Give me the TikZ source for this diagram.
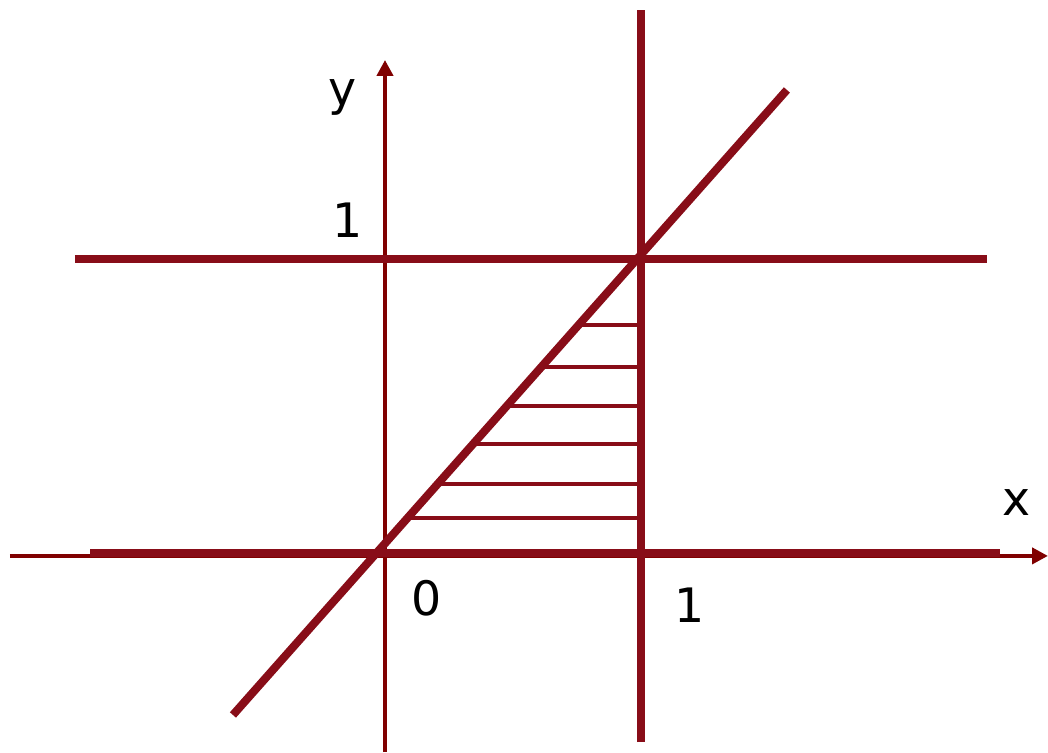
\documentclass[tikz,border=0pt]{standalone}
\usepackage{fontspec}
\setmainfont{DejaVu Sans}
\usetikzlibrary{arrows.meta}
\definecolor{axisred}{RGB}{128,0,0}
\definecolor{linered}{RGB}{136,13,24}
\tikzset{
  axis/.style={axisred, line width=1.15pt, -{Triangle[length=4.5pt,width=4.5pt]}},
  bound/.style={linered, line width=2.3pt},
  hatch/.style={linered, line width=1pt},
  lbl/.style={font=\fontsize{13.5}{15}\selectfont, inner sep=0pt}
}
\begin{document}
\begin{tikzpicture}[x=2.56cm,y=2.94cm]
\useasboundingbox (-1.504,-0.677) rectangle (2.590,1.881);
% axes
\draw[axis] (-1.465,-0.01) -- (2.59,-0.01);
\draw[axis] (0,-0.677) -- (0,1.677);
% region boundaries
\draw[bound] (-1.152,0) -- (2.402,0);
\draw[bound] (-1.211,1) -- (2.352,1);
\draw[bound] (1,-0.643) -- (1,1.847);
\draw[bound] (-0.594,-0.551) -- (1.570,1.575);
% shading of the region
\foreach \h in {0.119,0.235,0.371,0.5,0.633,0.776}
  \draw[hatch] ({-0.594+(\h+0.551)/0.9824},\h) -- (0.984,\h);
\node[lbl] (ylab) at (-0.164,1.551) {y};
\node[lbl] (xlab) at (2.469,0.173) {x};
\node[lbl] (one) at (-0.148,1.133) {1};
\node[lbl] (zero) at (0.164,-0.153) {0};
\node[lbl] (onex) at (1.191,-0.177) {1};
\end{tikzpicture}
\end{document}
